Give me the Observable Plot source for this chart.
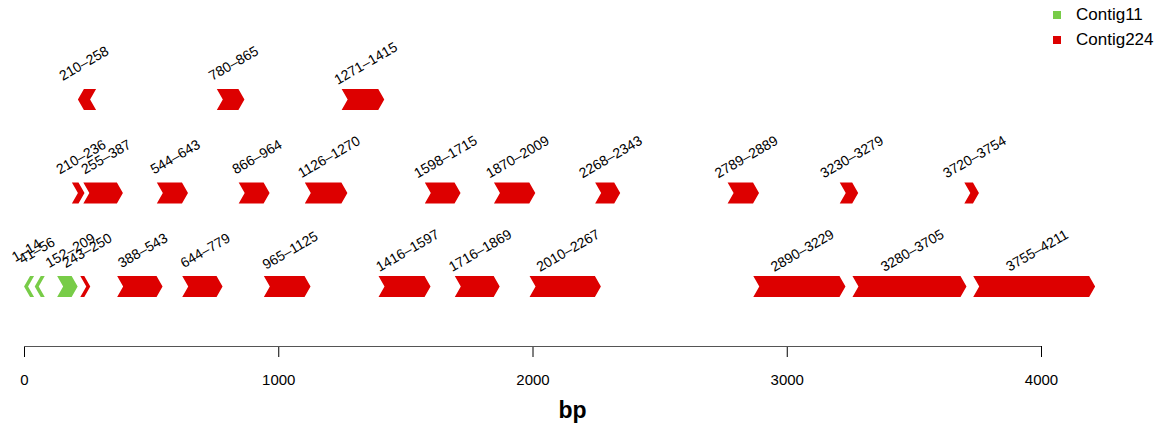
<!DOCTYPE html>
<html><head><meta charset="utf-8">
<script src="https://cdn.jsdelivr.net/npm/d3@7"></script>
<script src="https://cdn.jsdelivr.net/npm/@observablehq/plot@0.6"></script>
<style>
body{margin:0;background:#fff;font-family:"Liberation Sans",Arial,Helvetica,sans-serif;}
#wrap{position:relative;width:1173px;height:428px;}
#legend{position:absolute;left:1053px;top:2px;font-size:17px;line-height:25px;color:#000;}
#legend .it{display:flex;align-items:center;}
#legend .sw{width:8px;height:8px;margin-right:15px;}
</style></head>
<body><div id="wrap"><div id="chart"></div><div id="legend"></div></div>
<script>
// ---- data ----
const contigs = ["Contig11", "Contig224"];
const contigColors = ["#78cc48", "#dd0000"];
const geneStart  = [1, 41, 152, 243, 388, 644, 965, 1416, 1716, 2010, 2890, 3280, 3755,
                    210, 255, 544, 866, 1126, 1598, 1870, 2268, 2789, 3230, 3720,
                    210, 780, 1271];
const geneEnd    = [14, 56, 209, 250, 543, 779, 1125, 1597, 1869, 2267, 3229, 3705, 4211,
                    236, 387, 643, 964, 1270, 1715, 2009, 2343, 2889, 3279, 3754,
                    258, 865, 1415];
const geneStrand = [-1, -1, 1, 1, 1, 1, 1, 1, 1, 1, 1, 1, 1,
                    1, 1, 1, 1, 1, 1, 1, 1, 1, 1, 1,
                    -1, 1, 1];
const geneRow    = [1, 1, 1, 1, 1, 1, 1, 1, 1, 1, 1, 1, 1,
                    2, 2, 2, 2, 2, 2, 2, 2, 2, 2, 2,
                    3, 3, 3];
const geneContig = ["Contig11", "Contig11", "Contig11", "Contig224", "Contig224", "Contig224", "Contig224",
                    "Contig224", "Contig224", "Contig224", "Contig224", "Contig224", "Contig224",
                    "Contig224", "Contig224", "Contig224", "Contig224", "Contig224", "Contig224",
                    "Contig224", "Contig224", "Contig224", "Contig224", "Contig224",
                    "Contig224", "Contig224", "Contig224"];
const xTicks = [0, 1000, 2000, 3000, 4000];
const xLabel = "bp";

// ---- layout ----
const W = 1173, H = 428;
const xDomain = [0, 4000], xRange = [24, 1041];
const yDomain = [0.36, 3], yRange = [346, 99];
const kx = (xRange[1] - xRange[0]) / (xDomain[1] - xDomain[0]);
const ky = (yRange[0] - yRange[1]) / (yDomain[1] - yDomain[0]);
const headPx = 6, halfPx = 10.5, minPx = 4;
const hB = headPx / kx, tB = minPx / kx, half = halfPx / ky;

const genes = geneStart.map((s, i) => ({
  id: i, start: s, end: geneEnd[i], strand: geneStrand[i], row: geneRow[i], contig: geneContig[i],
  label: `${s}\u2013${geneEnd[i]}`
}));

const verts = [];
for (const g of genes) {
  const top = g.row + half, bot = g.row - half, mid = g.row;
  let pts;
  if (g.strand > 0) {
    const tip = Math.max(g.end, g.start + tB);
    pts = [[g.start - hB, top], [tip - hB, top], [tip, mid], [tip - hB, bot], [g.start - hB, bot], [g.start, mid]];
  } else {
    const tip = Math.min(g.start, g.end - tB);
    pts = [[tip, mid], [tip + hB, top], [g.end + hB, top], [g.end, mid], [g.end + hB, bot], [tip + hB, bot]];
  }
  for (const [x, y] of pts) verts.push({id: g.id, contig: g.contig, x, y});
}

const chart = Plot.plot({
  width: W, height: H,
  marginLeft: 24, marginRight: 53, marginTop: 10, marginBottom: H - yRange[0],
  style: {fontFamily: '"Liberation Sans", Arial, Helvetica, sans-serif', fontSize: "15px", color: "#000", background: "#fff"},
  x: {domain: xDomain, range: xRange, ticks: xTicks, tickFormat: "d", tickSize: 11, tickPadding: 17, label: null},
  y: {domain: yDomain, range: yRange, axis: null},
  color: {domain: contigs, range: contigColors},
  marks: [
    Plot.ruleY([yDomain[0]], {x1: xDomain[0], x2: xDomain[1], stroke: "#555", strokeWidth: 1.2}),
    Plot.line(verts, {x: "x", y: "y", z: "id", fill: "contig", stroke: "none", curve: "linear-closed"}),
    Plot.text(genes, {x: d => (d.start + d.end) / 2, y: "row", text: "label", dy: -36, rotate: -30,
      textAnchor: "middle", lineAnchor: "middle", fontSize: 14, fill: "#000"}),
    Plot.text([xLabel], {frameAnchor: "bottom", lineAnchor: "middle", dy: 64, fontSize: 23, fontWeight: "bold", fill: "#000"})
  ]
});
document.getElementById("chart").appendChild(chart);

const leg = document.getElementById("legend");
contigs.forEach((c, i) => {
  const it = document.createElement("div"); it.className = "it";
  const sw = document.createElement("span"); sw.className = "sw"; sw.style.background = contigColors[i];
  const tx = document.createElement("span"); tx.textContent = c;
  it.appendChild(sw); it.appendChild(tx); leg.appendChild(it);
});
</script>
</body></html>
